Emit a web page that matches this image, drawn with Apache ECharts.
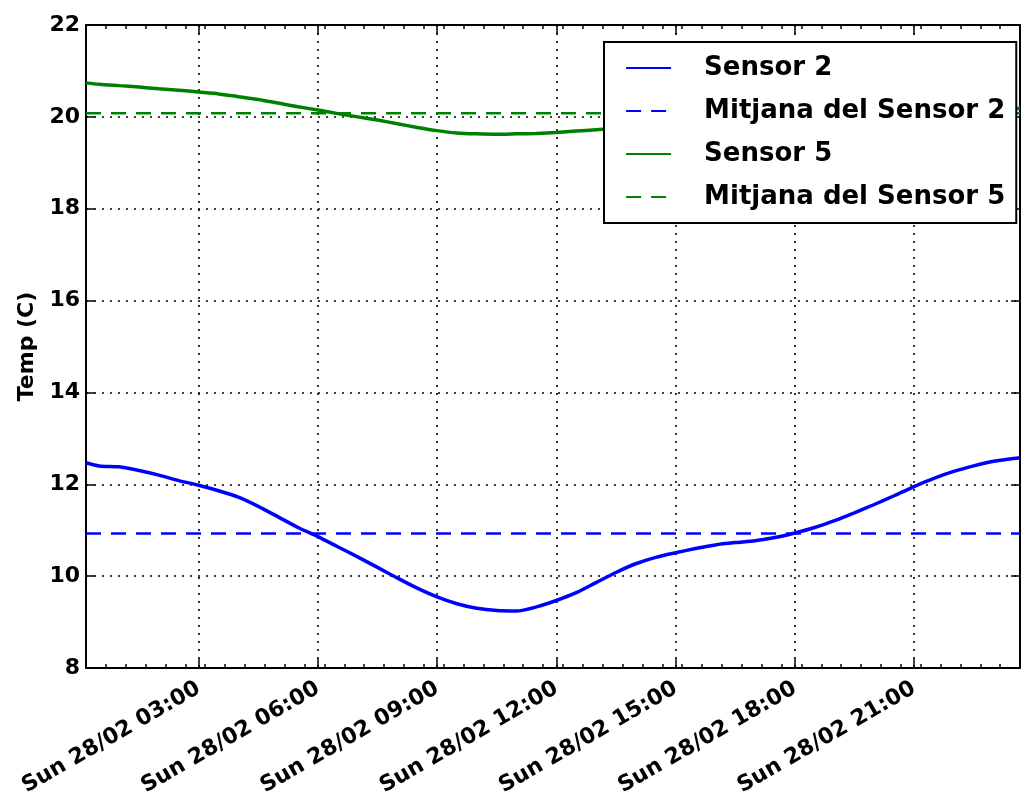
<!DOCTYPE html>
<html>
<head>
<meta charset="utf-8">
<script src="https://cdn.jsdelivr.net/npm/echarts@6/dist/echarts.min.js"></script>
<style>
  html, body { margin: 0; padding: 0; background: #fff; }
  #chart { width: 1022px; height: 810px; }
</style>
</head>
<body>
<div id="chart"></div>
<script>
// Sample times (hours since midnight, Sunday 28/02)
const hours = [10 / 60, 0.5, 1, 1.5, 2, 2.5, 3, 3.5, 4, 4.5, 5, 5.5, 6, 6.5, 7, 7.5, 8, 8.5,
  9, 9.5, 10, 10.5, 11, 11.5, 12, 12.5, 13, 13.5, 14, 14.5, 15, 15.5, 16, 16.5, 17, 17.5,
  18, 18.5, 19, 19.5, 20, 20.5, 21, 21.5, 22, 22.5, 23, 23.5, 23 + 40 / 60];

// Temperatures (C)
const sensor2 = [12.47, 12.40, 12.38, 12.30, 12.20, 12.08, 11.98, 11.86, 11.72, 11.52, 11.29, 11.06,
  10.86, 10.64, 10.42, 10.19, 9.96, 9.74, 9.55, 9.40, 9.30, 9.25, 9.24, 9.33, 9.47, 9.64,
  9.86, 10.08, 10.27, 10.41, 10.51, 10.60, 10.68, 10.73, 10.77, 10.84, 10.94, 11.06, 11.21,
  11.38, 11.56, 11.75, 11.95, 12.13, 12.28, 12.40, 12.50, 12.56, 12.58];

const sensor5 = [20.74, 20.71, 20.68, 20.65, 20.61, 20.58, 20.54, 20.50, 20.44, 20.38, 20.30, 20.22,
  20.15, 20.07, 20.00, 19.93, 19.85, 19.77, 19.70, 19.65, 19.63, 19.62, 19.63, 19.64, 19.66, 19.69,
  19.72, 19.75, 19.78, 19.81, 19.84, 19.86, 19.88, 19.90, 19.92, 19.94, 19.96, 19.98, 20.00,
  20.02, 20.04, 20.06, 20.08, 20.10, 20.12, 20.14, 20.16, 20.18, 20.19];

// Daily means
const mean2 = 10.93;
const mean5 = 20.08;

const seriesNames = ['Sensor 2', 'Mitjana del Sensor 2', 'Sensor 5', 'Mitjana del Sensor 5'];

// Axis ticks
const xStart = 10 / 60;
const xEnd = 23 + 40 / 60;
const majorHours = [3, 6, 9, 12, 15, 18, 21];
const xTickLabels = ['Sun 28/02 03:00', 'Sun 28/02 06:00', 'Sun 28/02 09:00', 'Sun 28/02 12:00',
  'Sun 28/02 15:00', 'Sun 28/02 18:00', 'Sun 28/02 21:00'];
const yTicks = [8, 10, 12, 14, 16, 18, 20, 22];

// minor ticks every half hour from the first sample
const minorHours = [];
for (let k = 0; xStart + k * 0.5 <= xEnd + 1e-9; k++) minorHours.push(xStart + k * 0.5);

const FONT = 'DejaVu Sans';
const BLUE = '#0000ff';
const GREEN = '#008000';

const spine = { show: true, lineStyle: { color: '#000', width: 2 } };
const noSpine = { show: false };
const gridDots = { show: true, lineStyle: { color: '#000', width: 1.6, type: [2, 6] } };
const tickFont = { fontFamily: FONT, fontWeight: 'bold', fontSize: 22, color: '#000' };

function xAxisDef(position, ticks, len, withLabels, withLine) {
  return {
    type: 'value', position: position, min: xStart, max: xEnd,
    axisLine: withLine ? spine : noSpine,
    axisTick: { show: true, inside: true, length: len, customValues: ticks,
      lineStyle: { color: '#000', width: 1.5 } },
    axisLabel: withLabels ? Object.assign({
      customValues: majorHours, rotate: 30, margin: 19,
      formatter: v => xTickLabels[majorHours.indexOf(Math.round(v))]
    }, tickFont) : { show: false },
    splitLine: (withLabels ? gridDots : { show: false })
  };
}

function yAxisDef(position, withLabels) {
  return {
    type: 'value', position: position, min: 8, max: 22, interval: 2,
    axisLine: spine,
    axisTick: { show: true, inside: true, length: 9, customValues: yTicks,
      lineStyle: { color: '#000', width: 1.5 } },
    axisLabel: withLabels ? Object.assign({ customValues: yTicks, margin: 6 }, tickFont) : { show: false },
    splitLine: withLabels ? gridDots : { show: false },
    name: withLabels ? 'Temp (C)' : '',
    nameLocation: 'middle', nameGap: 47, nameRotate: 90,
    nameTextStyle: tickFont
  };
}

function lineSeries(name, data, color, dashed) {
  return {
    name: name, type: 'line', xAxisIndex: 0, yAxisIndex: 0,
    data: data, symbol: 'none', showSymbol: false,
    smooth: dashed ? false : 0.25,
    lineStyle: { color: color, width: dashed ? 2.4 : 3.5, type: dashed ? [15, 10] : 'solid' },
    itemStyle: { color: color },
    emphasis: { disabled: true }
  };
}

const chart = echarts.init(document.getElementById('chart'), null, { renderer: 'canvas' });
chart.setOption({
  animation: false,
  backgroundColor: '#fff',
  grid: { left: 86, right: 2, top: 25, bottom: 142, containLabel: false },
  xAxis: [
    xAxisDef('bottom', majorHours, 9, true, true),
    xAxisDef('top', majorHours, 9, false, true),
    xAxisDef('bottom', minorHours, 4, false, false),
    xAxisDef('top', minorHours, 4, false, false)
  ],
  yAxis: [yAxisDef('left', true), yAxisDef('right', false)],
  legend: {
    orient: 'vertical', left: 604, top: 42,
    padding: [13, 11, 13, 21], itemGap: 17, itemWidth: 45, itemHeight: 14,
    backgroundColor: '#fff', borderColor: '#000', borderWidth: 2, borderRadius: 0,
    itemStyle: { opacity: 0 },
    lineStyle: { width: 2.2 },
    textStyle: { fontFamily: FONT, fontWeight: 'bold', fontSize: 26, color: '#000', padding: [0, 0, 0, 28] },
    data: seriesNames
  },
  series: [
    lineSeries(seriesNames[0], hours.map((h, i) => [h, sensor2[i]]), BLUE, false),
    lineSeries(seriesNames[1], [[xStart, mean2], [xEnd, mean2]], BLUE, true),
    lineSeries(seriesNames[2], hours.map((h, i) => [h, sensor5[i]]), GREEN, false),
    lineSeries(seriesNames[3], [[xStart, mean5], [xEnd, mean5]], GREEN, true)
  ]
});
</script>
</body>
</html>
